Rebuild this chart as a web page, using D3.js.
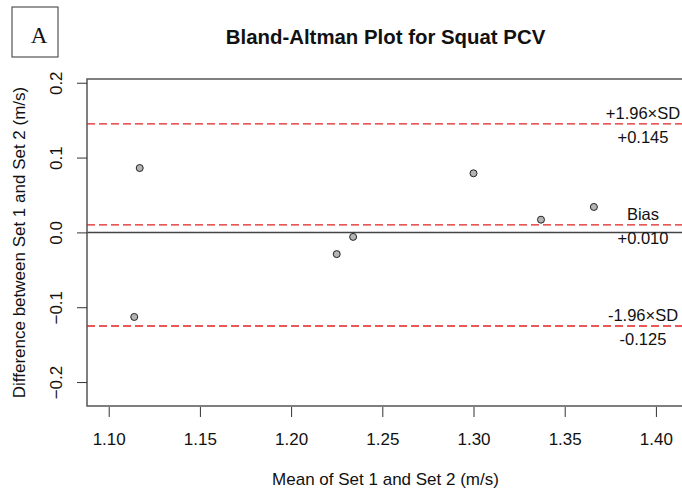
<!DOCTYPE html>
<html>
<head>
<meta charset="utf-8">
<script src="https://cdn.jsdelivr.net/npm/d3@7"></script>
<style>
  html, body { margin: 0; padding: 0; background: #fff; }
  svg { display: block; font-family: "Liberation Sans", Arial, sans-serif; }
</style>
</head>
<body>
<div id="chart"></div>
<script>
// mean of the two sets (x) and difference between them (y)
const meanValues = [1.117, 1.114, 1.225, 1.234, 1.300, 1.337, 1.366];
const diffValues = [0.086, -0.113, -0.029, -0.006, 0.079, 0.017, 0.034];

// reference lines
const refNames = ['+1.96×SD', 'Bias', '-1.96×SD'];
const refValues = [0.145, 0.010, -0.125];
const refLabels = ['+0.145', '+0.010', '-0.125'];

const xTicks = [1.10, 1.15, 1.20, 1.25, 1.30, 1.35, 1.40];
const yTicks = [0.2, 0.1, 0.0, -0.1, -0.2];

const width = 682, height = 491;
const box = { left: 87, top: 79, right: 684, bottom: 406 };

const svg = d3.select('#chart')
    .append('svg')
    .attr('width', width)
    .attr('height', height);

const x = d3.scaleLinear()
    .domain([1.0881, 1.4154])
    .range([box.left, box.right]);

const y = d3.scaleLinear()
    .domain([-0.232, 0.205])
    .range([box.bottom, box.top]);

// panel letter
svg.append('rect')
    .attr('x', 12).attr('y', 7)
    .attr('width', 46).attr('height', 50)
    .attr('fill', 'none')
    .attr('stroke', '#333')
    .attr('stroke-width', 1);
svg.append('text')
    .attr('x', 39).attr('y', 43)
    .attr('text-anchor', 'middle')
    .style('font-family', '"Liberation Serif", "Times New Roman", serif')
    .style('font-size', '23px')
    .attr('fill', '#111')
    .text('A');

// title
svg.append('text')
    .attr('x', (box.left + box.right) / 2)
    .attr('y', 44)
    .attr('text-anchor', 'middle')
    .style('font-size', '20.4px')
    .style('font-weight', 'bold')
    .attr('fill', '#111')
    .text('Bland-Altman Plot for Squat PCV');

// zero line
svg.append('line')
    .attr('x1', box.left).attr('x2', box.right)
    .attr('y1', y(0)).attr('y2', y(0))
    .attr('stroke', '#444')
    .attr('stroke-width', 1.5);

// bias and limits of agreement
refValues.forEach((v, i) => {
    svg.append('line')
        .attr('x1', box.left).attr('x2', box.right)
        .attr('y1', y(v)).attr('y2', y(v))
        .attr('stroke', '#e02222')
        .attr('stroke-width', 1.4)
        .attr('stroke-dasharray', '8,4');

    svg.append('text')
        .attr('x', 643)
        .attr('y', y(v) - 5)
        .attr('text-anchor', 'middle')
        .style('font-size', '16.5px')
        .attr('fill', '#111')
        .text(refNames[i]);

    svg.append('text')
        .attr('x', 643)
        .attr('y', y(v) + 19)
        .attr('text-anchor', 'middle')
        .style('font-size', '16.5px')
        .attr('fill', '#111')
        .text(refLabels[i]);
});

// points
svg.append('g')
    .selectAll('circle')
    .data(meanValues)
    .join('circle')
    .attr('cx', d => x(d))
    .attr('cy', (d, i) => y(diffValues[i]))
    .attr('r', 3.5)
    .attr('fill', '#b4b4b4')
    .attr('stroke', '#222')
    .attr('stroke-width', 1);

// plot frame
svg.append('rect')
    .attr('x', box.left).attr('y', box.top)
    .attr('width', box.right - box.left)
    .attr('height', box.bottom - box.top)
    .attr('fill', 'none')
    .attr('stroke', '#555')
    .attr('stroke-width', 1.5);

// x axis, ticks only
const xAxis = svg.append('g')
    .attr('transform', `translate(0,${box.bottom + 1})`)
    .call(d3.axisBottom(x)
        .tickValues(xTicks)
        .tickSize(10)
        .tickPadding(16)
        .tickFormat(d3.format('.2f')));
xAxis.select('.domain').remove();
xAxis.selectAll('line').attr('stroke', '#333');
xAxis.selectAll('text')
    .style('font-size', '17px')
    .style('font-family', '"Liberation Sans", Arial, sans-serif')
    .attr('fill', '#111');

// y axis, rotated labels
const yAxis = svg.append('g')
    .attr('transform', `translate(${box.left},0)`)
    .call(d3.axisLeft(y)
        .tickValues(yTicks)
        .tickSize(10)
        .tickFormat(d3.format('.1f')));
yAxis.select('.domain').remove();
yAxis.selectAll('line').attr('stroke', '#333');
yAxis.selectAll('text')
    .attr('transform', 'rotate(-90)')
    .attr('x', 0)
    .attr('y', -25)
    .attr('dy', 0)
    .attr('text-anchor', 'middle')
    .style('font-size', '17px')
    .style('font-family', '"Liberation Sans", Arial, sans-serif')
    .attr('fill', '#111');

// axis titles
svg.append('text')
    .attr('x', (box.left + box.right) / 2)
    .attr('y', 485)
    .attr('text-anchor', 'middle')
    .style('font-size', '17px')
    .attr('fill', '#111')
    .text('Mean of Set 1 and Set 2 (m/s)');

svg.append('text')
    .attr('transform', `translate(25,${(box.top + box.bottom) / 2}) rotate(-90)`)
    .attr('text-anchor', 'middle')
    .style('font-size', '17px')
    .attr('fill', '#111')
    .text('Difference between Set 1 and Set 2 (m/s)');
</script>
</body>
</html>
